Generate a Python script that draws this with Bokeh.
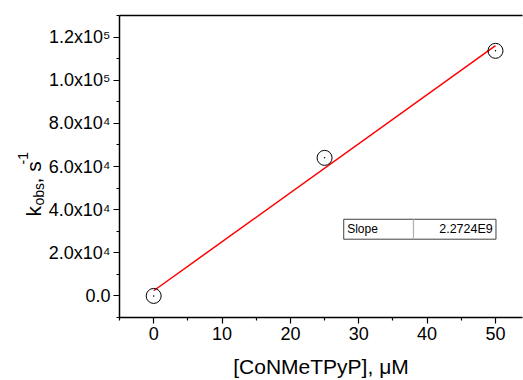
import math
import numpy as np
from bokeh.plotting import figure
from bokeh.layouts import row
from bokeh.models import (Range1d, FixedTicker, LinearAxis, Label)
from bokeh.core.properties import value
from bokeh.embed import file_html
from bokeh.resources import INLINE

# ---- data ----
conc_uM = [0, 25, 50]
kobs = [0, 64000, 113620]
x_ticks = [0, 10, 20, 30, 40, 50]
x_minor = [-5, 5, 15, 25, 35, 45, 55]
y_ticks = [0, 20000, 40000, 60000, 80000, 100000, 120000]
y_tick_labels = ["0.0", "2.0x10\u2074", "4.0x10\u2074", "6.0x10\u2074",
                 "8.0x10\u2074", "1.0x10\u2075", "1.2x10\u2075"]
y_minor = [-10000, 10000, 30000, 50000, 70000, 90000, 110000, 130000]
stat_names = ["Slope"]

FONT = "Liberation Sans"
W, H = 523, 380
LW = 45            # width of the strip that holds the rotated y label
FRAME_LEFT = 117   # absolute x of plot frame's left edge
FRAME_BOTTOM = 318 # absolute y of plot frame's bottom edge

# linear fit (per uM), slope reported per M
slope, intercept = np.polyfit(conc_uM, kobs, 1)
mant, expo = f"{slope * 1e6:.4E}".split("E")
slope_text = [f"{mant}E{int(expo)}"]

p = figure(width=W - LW, height=H, output_backend="svg", toolbar_location=None,
           x_range=Range1d(-5, 53.95), y_range=Range1d(-10000, 130000),
           min_border_left=FRAME_LEFT - LW, min_border_right=1,
           min_border_top=15, min_border_bottom=H - FRAME_BOTTOM)
p.outline_line_color = None
p.grid.visible = False
p.background_fill_color = "white"
p.border_fill_color = "white"

for ax in (p.xaxis[0], p.yaxis[0]):
    ax.axis_line_color = "black"
    ax.axis_line_width = 1.5
    ax.major_tick_line_color = "black"
    ax.minor_tick_line_color = "black"
    ax.major_tick_line_width = 1.2
    ax.minor_tick_line_width = 1.2
    ax.major_tick_in = 0
    ax.minor_tick_in = 0
    ax.major_tick_out = 6
    ax.minor_tick_out = 3
    ax.major_label_text_font = FONT
    ax.major_label_text_font_size = "18px"
    ax.major_label_text_color = "black"
    ax.major_label_standoff = 3

p.xaxis[0].ticker = FixedTicker(ticks=x_ticks, minor_ticks=x_minor)
p.yaxis[0].ticker = FixedTicker(ticks=y_ticks, minor_ticks=y_minor)
p.yaxis[0].major_label_overrides = {t: s for t, s in zip(y_ticks, y_tick_labels)}

p.xaxis[0].axis_label = "[CoNMeTPyP], \u03bcM"
p.xaxis[0].axis_label_text_font = FONT
p.xaxis[0].axis_label_text_font_size = "21px"
p.xaxis[0].axis_label_text_font_style = "normal"
p.xaxis[0].axis_label_text_color = "black"
p.xaxis[0].axis_label_standoff = 12

# top frame line (no ticks, no labels)
top = LinearAxis(ticker=FixedTicker(ticks=[], minor_ticks=[]),
                 major_tick_out=0, minor_tick_out=0, major_tick_in=0,
                 minor_tick_in=0, axis_line_color="black",
                 axis_line_width=1.5, major_label_standoff=0)
p.add_layout(top, "above")

# fit line
xfit = np.array([conc_uM[0], conc_uM[-1]], dtype=float)
p.line(xfit, slope * xfit + intercept, line_color="red", line_width=1.5)

# data points
p.scatter(conc_uM, kobs, marker="circle", size=15, fill_color=None,
          line_color="black", line_width=1)
p.scatter(conc_uM, kobs, marker="circle", size=1.5, fill_color="black",
          line_color=None)

# slope table
p.quad(left=[27.8], right=[50.07], bottom=[26300], top=[35540],
       fill_color="white", line_color="#404040", line_width=1)
p.segment(x0=[38.0], y0=[26300], x1=[38.0], y1=[35540], line_color="#b0b0b0",
          line_width=1.2)
p.text(x=[28.3], y=[30900], text=stat_names, text_font=value(FONT),
       text_font_size="12px", text_baseline="middle", text_align="left",
       text_color="black")
p.text(x=[49.6], y=[30900], text=slope_text, text_font=value(FONT),
       text_font_size="12.5px", text_baseline="middle", text_align="right",
       text_color="black")

# ---- rotated y-axis label strip: k_obs, s^-1 ----
lab = figure(width=LW, height=H, output_backend="svg", toolbar_location=None,
             x_range=Range1d(0, 1), y_range=Range1d(0, 1),
             min_border_left=0, min_border_right=0, min_border_top=0,
             min_border_bottom=0)
lab.axis.visible = False
lab.grid.visible = False
lab.outline_line_color = None
lab.background_fill_color = "white"
lab.border_fill_color = "white"

# the strip's frame is aligned with the main frame (bottom at FRAME_BOTTOM)
def ylab(txt, ximg, yimg, size):
    lab.add_layout(Label(x=ximg, y=FRAME_BOTTOM - yimg,
                         x_units="screen", y_units="screen",
                         text=txt, angle=math.pi / 2, text_font=FONT,
                         text_font_size=size, text_color="black",
                         text_baseline="alphabetic", text_align="left"))

ylab("k", 33, 217, "21px")
ylab("obs", 38, 206, "14px")
ylab(", s", 33, 184, "21px")
ylab("-1", 22, 165, "14px")

layout = row(lab, p, spacing=0)
open("out.html", "w").write(file_html(layout, INLINE))
